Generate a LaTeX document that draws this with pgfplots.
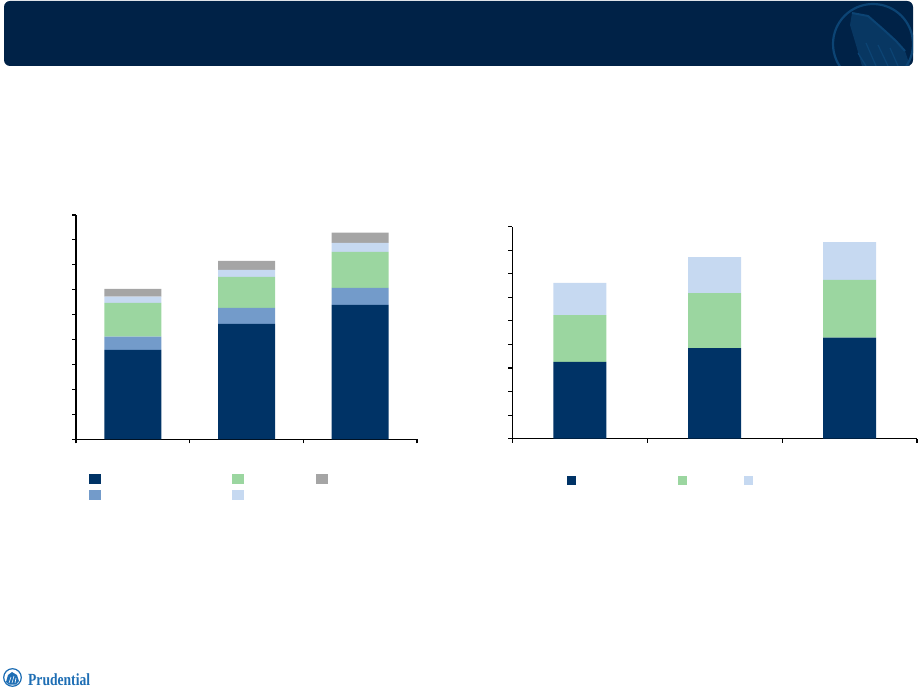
\documentclass[border=0pt]{standalone}
\usepackage{pgfplots}
\pgfplotsset{compat=1.18}
\usepackage{fontspec}
\setmainfont{Liberation Serif}
\definecolor{navy}{RGB}{0,51,102}
\definecolor{medblue}{RGB}{115,155,202}
\definecolor{green}{RGB}{155,214,160}
\definecolor{lightblue}{RGB}{198,217,241}
\definecolor{midgray}{RGB}{165,165,165}
\definecolor{hdr}{RGB}{0,34,71}
\definecolor{emb}{RGB}{12,68,116}
\definecolor{embfill}{RGB}{8,55,98}
\definecolor{footblue}{RGB}{30,110,180}
\pgfplotsset{
  sqL/.style={legend image code/.code={\fill[#1] (0pt,-4.5pt) rectangle (11pt,4.5pt);}},
  sqR/.style={legend image code/.code={\fill[#1] (0pt,-4pt) rectangle (8pt,4pt);}},
  slide/.style={
    scale only axis, anchor=south west,
    axis lines*=left,
    axis line style={line width=1.3pt, black},
    every tick/.style={line width=1.1pt, black},
    tick align=outside, major tick length=4pt,
    xticklabels={}, yticklabels={},
    xmin=0, xmax=3, xtick={0,1,2,3},
    ymin=0, ymax=9, ytick={0,1,2,3,4,5,6,7,8,9},
    ybar stacked,
    legend style={draw=none, fill=none, inner sep=0pt, outer sep=0pt,
      anchor=north west, row sep=7pt, column sep=0pt,
      nodes={inner sep=0pt, outer sep=0pt, text depth=0pt}},
  },
}
\begin{document}
\begin{tikzpicture}[x=1pt,y=1pt]
\useasboundingbox (0,0) rectangle (920,693);
% header bar
\begin{scope}
\clip[rounded corners=6pt] (4,627) rectangle (913,692);
\fill[hdr] (0,600) rectangle (920,693);
\fill[embfill] (852,680) -- (868,677) -- (884,663) -- (896,652) -- (905,642) -- (910,627) -- (862,627) -- (856,648) -- (850,668) -- cycle;
\draw[emb, line width=2pt] (852,680) -- (868,677) -- (884,663) -- (896,652) -- (905,642);
\draw[emb, line width=1.2pt] (858,640) -- (866,627) (866,650) -- (876,627) (878,648) -- (888,627) (890,645) -- (898,627);
\draw[emb, line width=2.2pt] (873,649) circle (40);
\end{scope}
% left chart
\begin{axis}[slide, at={(76pt,253.7pt)}, width=341pt, height=224.3pt,
  bar width=57pt,
  legend columns=3,
  legend style={at={(0.0381,-0.1547)}}]
\addplot[fill=navy, draw=none, forget plot] coordinates {(0.5,3.59) (1.5,4.63) (2.5,5.39)};
\addplot[fill=medblue, draw=none, forget plot] coordinates {(0.5,0.53) (1.5,0.64) (2.5,0.69)};
\addplot[fill=green, draw=none, forget plot] coordinates {(0.5,1.35) (1.5,1.25) (2.5,1.44)};
\addplot[fill=lightblue, draw=none, forget plot] coordinates {(0.5,0.25) (1.5,0.28) (2.5,0.36)};
\addplot[fill=midgray, draw=none, forget plot] coordinates {(0.5,0.32) (1.5,0.36) (2.5,0.41)};
\addlegendimage{sqL=navy}\addlegendentry{\rule{132pt}{0pt}}
\addlegendimage{sqL=green}\addlegendentry{\rule{72pt}{0pt}}
\addlegendimage{sqL=midgray}\addlegendentry{\rule{10pt}{0pt}}
\addlegendimage{sqL=medblue}\addlegendentry{\rule{132pt}{0pt}}
\addlegendimage{sqL=lightblue}\addlegendentry{\rule{72pt}{0pt}}
\end{axis}
% right chart
\begin{axis}[slide, at={(512.3pt,254.3pt)}, width=404.7pt, height=212pt,
  bar width=53pt,
  legend columns=3,
  legend style={at={(0.1352,-0.176)}}]
\addplot[fill=navy, draw=none, forget plot] coordinates {(0.5,3.26) (1.5,3.85) (2.5,4.29)};
\addplot[fill=green, draw=none, forget plot] coordinates {(0.5,1.99) (1.5,2.33) (2.5,2.45)};
\addplot[fill=lightblue, draw=none, forget plot] coordinates {(0.5,1.36) (1.5,1.53) (2.5,1.61)};
\addlegendimage{sqR=navy}\addlegendentry{\rule{103pt}{0pt}}
\addlegendimage{sqR=green}\addlegendentry{\rule{57pt}{0pt}}
\addlegendimage{sqR=lightblue}\addlegendentry{\rule{10pt}{0pt}}
\end{axis}
% footer logo
\draw[footblue, line width=1.2pt] (12.5,15.5) circle (8.8);
\fill[footblue] (6,11) -- (8,18) -- (12,21) -- (17,18) -- (19,12) -- (16,8.5) -- (9,8.5) -- cycle;
\draw[white, line width=0.6pt] (9,10) -- (11,16) (12,10) -- (14,17) (15,10) -- (16,15);
\node[anchor=base west, inner sep=0pt, text=footblue, xscale=0.8,
  font=\bfseries\fontsize{17}{17}\selectfont] at (28,8) {Prudential};
\end{tikzpicture}
\end{document}
